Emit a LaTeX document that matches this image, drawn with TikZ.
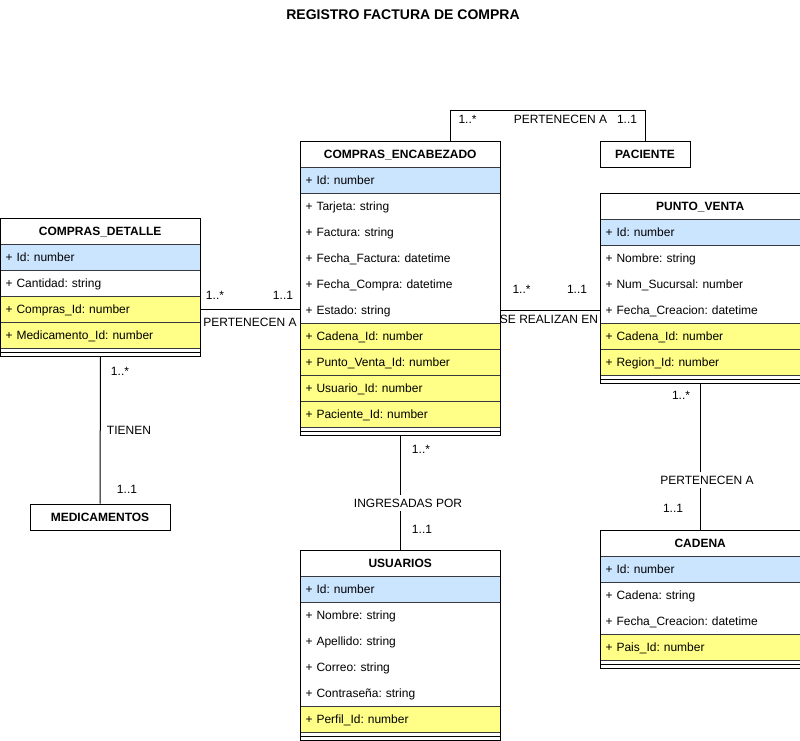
\documentclass[tikz,border=0pt]{standalone}
\usepackage{fontspec}
\setmainfont{Liberation Sans}
\usetikzlibrary{calc}
\frenchspacing

\definecolor{keyblue}{HTML}{CCE5FF}
\definecolor{fkyellow}{HTML}{FFFF88}
\definecolor{rowline}{HTML}{36393D}

\tikzset{
  every node/.style={font=\fontsize{12}{14}\selectfont},
  classframe/.style={draw=black, line width=1pt, minimum width=200pt, anchor=north west, inner sep=0pt},
  classhead/.style={anchor=north west, minimum width=200pt, minimum height=26pt, inner sep=0pt,
    font=\fontsize{12}{14}\selectfont\bfseries, text height=8.6pt, text depth=0pt},
  attrrow/.style={anchor=north west, minimum height=26pt, text width=190pt, inner xsep=5pt,
    inner ysep=0pt, align=left, text height=8.6pt, text depth=0pt, line width=1pt},
  entitybox/.style={draw=black, line width=1pt, inner sep=0pt, minimum height=26pt,
    font=\fontsize{12}{14}\selectfont\bfseries, text height=8.6pt, text depth=0pt},
  conn/.style={draw=black, line width=1pt},
  lbl/.style={inner sep=0pt, text height=8.6pt, text depth=0pt},
  lblbg/.style={lbl, fill=white, inner xsep=1pt, inner ysep=4pt},
}

% #1 name, #2 top-left corner, #3 number of attributes, #4 title,
% #5 attributes as fill/stroke/text
\newcommand{\umlclass}[5]{%
  \pgfmathsetmacro{\boxh}{26*(#3+1)+8}
  \node[classhead] (#1-head) at (#2) {#4};
  \foreach \fc/\dc/\txt [count=\i] in {#5} {
    \node[attrrow, fill=\fc, draw=\dc] (#1-\i) at ($(#2)+(0,26*\i)$) {\txt};
  }
  \draw[line width=1pt] ($(#2)+(0,26*#3+30)$) -- ++(200,0);
  \node[classframe, minimum height=\boxh pt] (#1) at (#2) {};
}

\begin{document}
\begin{tikzpicture}[x=1pt, y=-1pt]
\fill[white] (0,0) rectangle (800,741);
\useasboundingbox (0,0) rectangle (800,741);

\node[font=\fontsize{14}{16}\selectfont\bfseries, lbl] (title) at (403,15) {REGISTRO FACTURA DE COMPRA};

% classes
\umlclass{detalle}{0,218}{4}{COMPRAS\_DETALLE}{%
  keyblue/rowline/{+ Id: number},
  white/none/{+ Cantidad: string},
  fkyellow/rowline/{+ Compras\_Id: number},
  fkyellow/rowline/{+ Medicamento\_Id: number}}

\umlclass{encab}{300,141}{10}{COMPRAS\_ENCABEZADO}{%
  keyblue/rowline/{+ Id: number},
  white/none/{+ Tarjeta: string},
  white/none/{+ Factura: string},
  white/none/{+ Fecha\_Factura: datetime},
  white/none/{+ Fecha\_Compra: datetime},
  white/none/{+ Estado: string},
  fkyellow/rowline/{+ Cadena\_Id: number},
  fkyellow/rowline/{+ Punto\_Venta\_Id: number},
  fkyellow/rowline/{+ Usuario\_Id: number},
  fkyellow/rowline/{+ Paciente\_Id: number}}

\umlclass{venta}{600,193}{6}{PUNTO\_VENTA}{%
  keyblue/rowline/{+ Id: number},
  white/none/{+ Nombre: string},
  white/none/{+ Num\_Sucursal: number},
  white/none/{+ Fecha\_Creacion: datetime},
  fkyellow/rowline/{+ Cadena\_Id: number},
  fkyellow/rowline/{+ Region\_Id: number}}

\umlclass{usuarios}{300,550}{6}{USUARIOS}{%
  keyblue/rowline/{+ Id: number},
  white/none/{+ Nombre: string},
  white/none/{+ Apellido: string},
  white/none/{+ Correo: string},
  white/none/{+ Contraseña: string},
  fkyellow/rowline/{+ Perfil\_Id: number}}

\umlclass{cadena}{600,530}{4}{CADENA}{%
  keyblue/rowline/{+ Id: number},
  white/none/{+ Cadena: string},
  white/none/{+ Fecha\_Creacion: datetime},
  fkyellow/rowline/{+ Pais\_Id: number}}

\node[entitybox, minimum width=90pt] (paciente) at (645,154) {PACIENTE};
\node[entitybox, minimum width=140pt] (medic) at (100,517) {MEDICAMENTOS};

% detalle -- encabezado
\draw[conn] (detalle-3.east) -- (encab.west |- detalle-3.east);
\node[lbl] (m1a) at (215,295) {1..*};
\node[lbl] (m1b) at (283,295) {1..1};
\node[lbl] (r1) at (250,322.5) {PERTENECEN A};

% encabezado -- punto de venta
\draw[conn] (encab-6.east) -- (venta.west |- encab-6.east);
\node[lbl] (m2a) at (521.5,289) {1..*};
\node[lbl] (m2b) at (577,289) {1..1};
\node[lbl] (r2) at (549,319.5) {SE REALIZAN EN};

% encabezado -- paciente
\coordinate (encabtop) at ($(encab.north west)!0.75!(encab.north east)$);
\draw[conn] (encabtop) -- ++(0,-30) -| (paciente.north);
\node[lbl] (m3a) at (467.5,119.5) {1..*};
\node[lbl] (r3) at (560.5,119.5) {PERTENECEN A};
\node[lbl] (m3b) at (627,119.5) {1..1};

% detalle -- medicamentos
\draw[conn] (detalle.south) -- (medic.north);
\node[lbl] (m4a) at (120,371) {1..*};
\node[lbl] (r4) at (129,430) {TIENEN};
\node[lbl] (m4b) at (127,489) {1..1};

% encabezado -- usuarios
\draw[conn] (encab.south) -- (usuarios.north);
\node[lbl] (m5a) at (421,449) {1..*};
\node[lblbg] (r5) at (408,503) {INGRESADAS POR};
\node[lbl] (m5b) at (422,529) {1..1};

% punto de venta -- cadena
\draw[conn] (venta.south) -- (cadena.north);
\node[lbl] (m6a) at (681,395) {1..*};
\node[lblbg] (r6) at (707,480) {PERTENECEN A};
\node[lbl] (m6b) at (673,508.5) {1..1};
\end{tikzpicture}
\end{document}
